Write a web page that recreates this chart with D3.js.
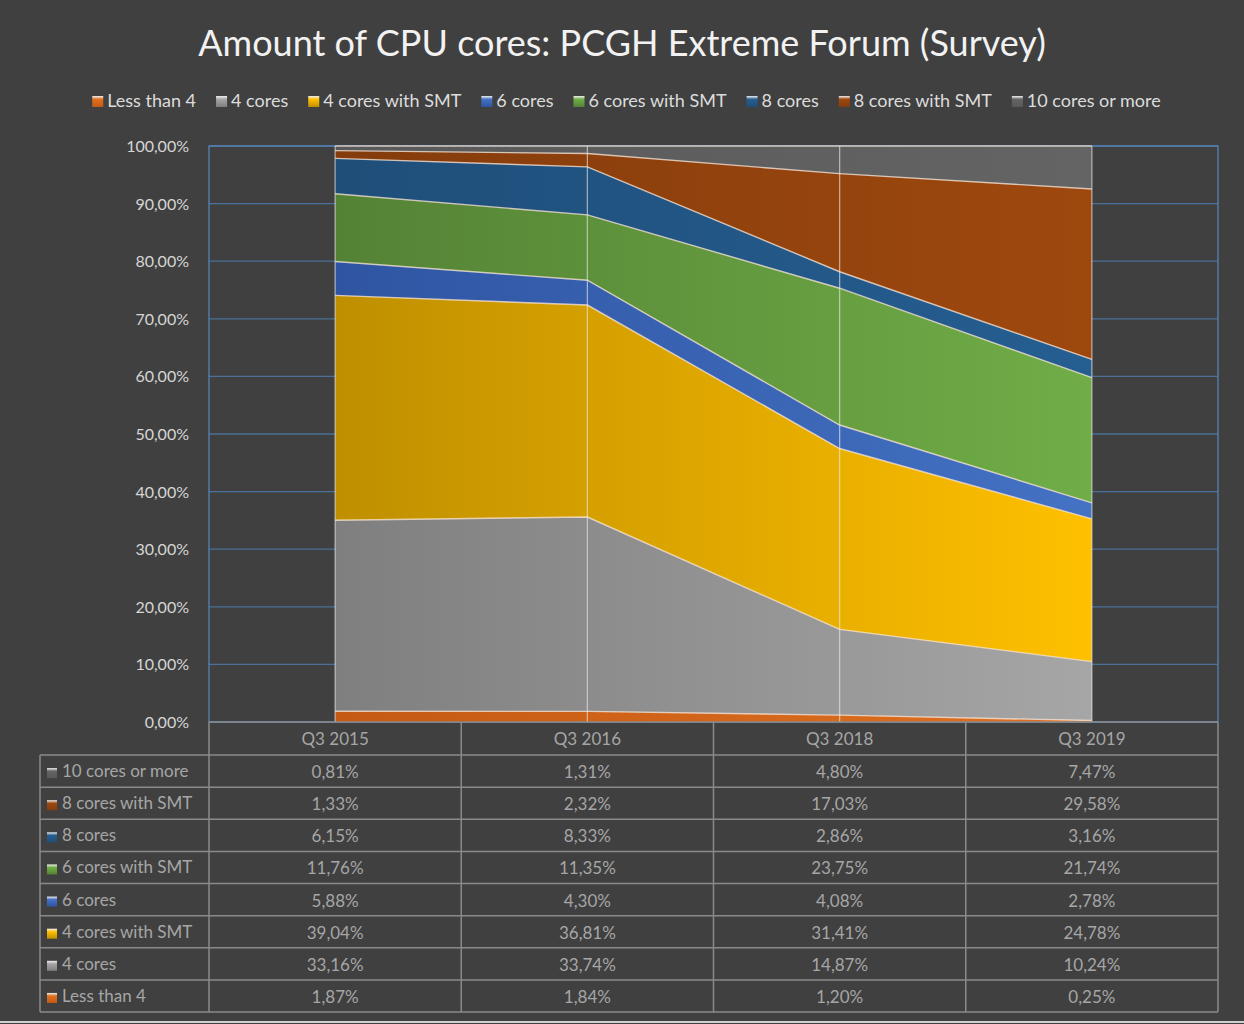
<!DOCTYPE html>
<html>
<head>
<meta charset="utf-8">
<script src="https://cdn.jsdelivr.net/npm/d3@7"></script>
<style>
  html, body { margin: 0; padding: 0; background: #404040; }
  svg { display: block; font-family: Lato, "Open Sans", sans-serif; }
</style>
</head>
<body>
<svg id="chart"></svg>
<script>
// quarters on the x axis
const categories = ['Q3 2015', 'Q3 2016', 'Q3 2018', 'Q3 2019'];

// series, bottom of the stack first (percent values)
const seriesNames = ['Less than 4', '4 cores', '4 cores with SMT', '6 cores', '6 cores with SMT', '8 cores', '8 cores with SMT', '10 cores or more'];
const lessThan4   = [1.87, 1.84, 1.20, 0.25];
const cores4      = [33.16, 33.74, 14.87, 10.24];
const cores4Smt   = [39.04, 36.81, 31.41, 24.78];
const cores6      = [5.88, 4.30, 4.08, 2.78];
const cores6Smt   = [11.76, 11.35, 23.75, 21.74];
const cores8      = [6.15, 8.33, 2.86, 3.16];
const cores8Smt   = [1.33, 2.32, 17.03, 29.58];
const cores10     = [0.81, 1.31, 4.80, 7.47];
const yTicks = [0, 10, 20, 30, 40, 50, 60, 70, 80, 90, 100];

const seriesValues = [lessThan4, cores4, cores4Smt, cores6, cores6Smt, cores8, cores8Smt, cores10];
// dark (left) and light (right) end of each fill gradient
const colorsDark  = ['#c45a14', '#7f7f7f', '#bf8f00', '#2f55a2', '#548235', '#1f4e79', '#843c0c', '#595959'];
const colorsLight = ['#e0701f', '#a6a6a6', '#ffc000', '#4472c4', '#70ad47', '#255e91', '#9e480e', '#646464'];

const width = 1244, height = 1024;
const plot = { left: 209, right: 1218, top: 146, bottom: 722 };
const table = { left: 40, headerBottom: 755, bottom: 1012 };

const svg = d3.select('#chart').attr('width', width).attr('height', height);

svg.append('rect').attr('width', width).attr('height', height).attr('fill', '#404040');

// title
svg.append('text')
  .attr('x', 622).attr('y', 56)
  .attr('text-anchor', 'middle')
  .attr('fill', '#f2f2f2')
  .attr('font-size', 36)
  .text('Amount of CPU cores: PCGH Extreme Forum (Survey)');

// table rows (top row = last series)
const rows = {};
seriesNames.forEach((name, i) => { rows[name] = seriesValues[i]; });
const stackData = categories.map((c, j) => {
  const o = { category: c };
  seriesNames.forEach((name, i) => { o[name] = seriesValues[i][j]; });
  return o;
});

const xPoint = d3.scalePoint().domain(categories).range([plot.left, plot.right]).padding(0.5);
const xBand = d3.scaleBand().domain(categories).range([plot.left, plot.right]);
const y = d3.scaleLinear().domain([0, 100]).range([plot.bottom, plot.top]);

// gradients
const defs = svg.append('defs');
seriesNames.forEach((name, i) => {
  const g = defs.append('linearGradient')
    .attr('id', 'grad' + i)
    .attr('gradientUnits', 'userSpaceOnUse')
    .attr('x1', xPoint(categories[0])).attr('x2', xPoint(categories[categories.length - 1]))
    .attr('y1', 0).attr('y2', 0);
  g.append('stop').attr('offset', '0%').attr('stop-color', colorsDark[i]);
  g.append('stop').attr('offset', '100%').attr('stop-color', colorsLight[i]);

  const k = defs.append('linearGradient')
    .attr('id', 'key' + i)
    .attr('x1', 0).attr('x2', 0).attr('y1', 0).attr('y2', 1);
  k.append('stop').attr('offset', '0%').attr('stop-color', '#f0f0f0');
  k.append('stop').attr('offset', '30%').attr('stop-color', colorsLight[i]);
  k.append('stop').attr('offset', '100%').attr('stop-color', colorsDark[i]);
});

// gridlines
svg.append('g')
  .selectAll('line')
  .data(yTicks)
  .enter()
  .append('line')
  .attr('x1', plot.left).attr('x2', plot.right)
  .attr('y1', d => y(d)).attr('y2', d => y(d))
  .attr('stroke', '#4a6f98')
  .attr('stroke-width', 1.3);

svg.append('rect')
  .attr('x', plot.left).attr('y', plot.top)
  .attr('width', plot.right - plot.left).attr('height', plot.bottom - plot.top)
  .attr('fill', 'none')
  .attr('stroke', '#5683b5')
  .attr('stroke-width', 1.3);

// stacked areas
const stack = d3.stack().keys(seriesNames);
const layers = stack(stackData);
const area = d3.area()
  .x(d => xPoint(d.data.category))
  .y0(d => y(d[0]))
  .y1(d => y(d[1]));
const topLine = d3.line()
  .x(d => xPoint(d.data.category))
  .y(d => y(d[1]));

svg.append('g')
  .selectAll('path')
  .data(layers)
  .enter()
  .append('path')
  .attr('d', area)
  .attr('fill', (d, i) => `url(#grad${i})`);

svg.append('g')
  .selectAll('path')
  .data(layers)
  .enter()
  .append('path')
  .attr('d', topLine)
  .attr('fill', 'none')
  .attr('stroke', 'rgba(255,235,220,0.75)')
  .attr('stroke-width', 1.4);

// drop lines at each category
svg.append('g')
  .selectAll('line')
  .data(categories)
  .enter()
  .append('line')
  .attr('x1', d => xPoint(d)).attr('x2', d => xPoint(d))
  .attr('y1', y(0)).attr('y2', y(100))
  .attr('stroke', 'rgba(235,235,235,0.6)')
  .attr('stroke-width', 1.3);

// y axis labels
svg.append('g')
  .selectAll('text')
  .data(yTicks)
  .enter()
  .append('text')
  .attr('x', 189)
  .attr('y', d => y(d) + 6)
  .attr('text-anchor', 'end')
  .attr('fill', '#d6d6d6')
  .attr('font-size', 16)
  .text(d => d3.format('.2f')(d).replace('.', ',') + '%');

// legend
const legend = svg.append('g');
const legendGap = 20;
let lx = 0;
seriesNames.forEach((name, i) => {
  const g = legend.append('g');
  g.append('rect').attr('x', 0).attr('y', -11).attr('width', 11).attr('height', 11)
    .attr('fill', `url(#key${i})`);
  const t = g.append('text').attr('x', 15).attr('y', 0)
    .attr('fill', '#dcdcdc').attr('font-size', 18).text(name);
  const w = 15 + t.node().getComputedTextLength();
  g.attr('transform', `translate(${lx},107)`);
  lx += w + legendGap;
});
const legendWidth = lx - legendGap;
legend.attr('transform', `translate(${(83 + 1170) / 2 - legendWidth / 2},0)`);

// data table
const rowOrder = seriesNames.slice().reverse();
const yRow = d3.scaleBand().domain(rowOrder).range([table.headerBottom, table.bottom]);
const gridColor = '#8a8a8a';
const tbl = svg.append('g');

// header row
tbl.selectAll('.head')
  .data(categories)
  .enter()
  .append('text')
  .attr('x', d => xBand(d) + xBand.bandwidth() / 2)
  .attr('y', (plot.bottom + table.headerBottom) / 2 + 6)
  .attr('text-anchor', 'middle')
  .attr('fill', '#a6a6a6')
  .attr('font-size', 17)
  .text(d => d);

// horizontal rules
const hLines = [table.headerBottom].concat(rowOrder.map(r => yRow(r) + yRow.bandwidth()));
tbl.selectAll('.hl')
  .data(hLines)
  .enter()
  .append('line')
  .attr('x1', table.left).attr('x2', plot.right)
  .attr('y1', d => d).attr('y2', d => d)
  .attr('stroke', gridColor).attr('stroke-width', 1.5);
tbl.append('line')
  .attr('x1', plot.left).attr('x2', plot.right)
  .attr('y1', plot.bottom).attr('y2', plot.bottom)
  .attr('stroke', gridColor).attr('stroke-width', 1.5);

// vertical rules
const vLines = categories.map(c => xBand(c)).concat([plot.right]);
tbl.selectAll('.vl')
  .data(vLines)
  .enter()
  .append('line')
  .attr('x1', d => d).attr('x2', d => d)
  .attr('y1', plot.bottom).attr('y2', table.bottom)
  .attr('stroke', gridColor).attr('stroke-width', 1.5);
tbl.append('line')
  .attr('x1', table.left).attr('x2', table.left)
  .attr('y1', table.headerBottom).attr('y2', table.bottom)
  .attr('stroke', gridColor).attr('stroke-width', 1.5);

// row labels with keys
const rowG = tbl.selectAll('.row')
  .data(rowOrder)
  .enter()
  .append('g')
  .attr('transform', d => `translate(0,${yRow(d) + yRow.bandwidth() / 2})`);
rowG.append('rect')
  .attr('x', 47).attr('y', -3).attr('width', 10).attr('height', 10)
  .attr('fill', d => `url(#key${seriesNames.indexOf(d)})`);
rowG.append('text')
  .attr('x', 62).attr('y', 6)
  .attr('fill', '#a6a6a6')
  .attr('font-size', 17)
  .text(d => d);
rowG.selectAll('.val')
  .data(d => rows[d].map((v, j) => ({ v, c: categories[j] })))
  .enter()
  .append('text')
  .attr('x', d => xBand(d.c) + xBand.bandwidth() / 2)
  .attr('y', 7)
  .attr('text-anchor', 'middle')
  .attr('fill', '#a6a6a6')
  .attr('font-size', 17)
  .text(d => d3.format('.2f')(d.v).replace('.', ',') + '%');

// outer frame line at the bottom
svg.append('line')
  .attr('x1', 0).attr('x2', width)
  .attr('y1', 1022).attr('y2', 1022)
  .attr('stroke', '#d0d0d0').attr('stroke-width', 2);
</script>
</body>
</html>
